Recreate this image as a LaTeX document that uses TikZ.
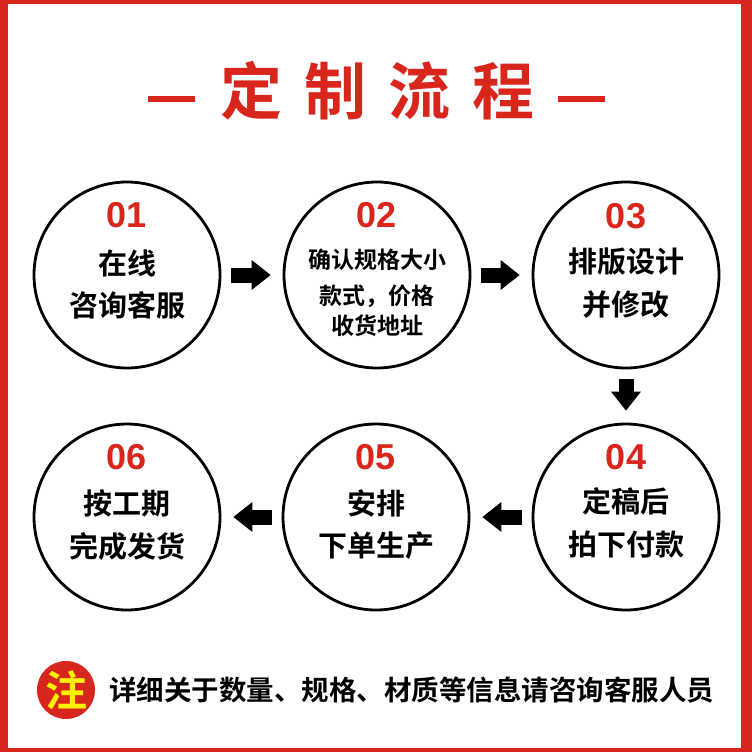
\documentclass[tikz,border=0pt]{standalone}
\usepackage{fontspec}
\newfontfamily\cjk{Noto Sans CJK SC}[BoldFont={Noto Sans CJK SC Bold}]
\newfontfamily\numfont{Liberation Sans}
\usetikzlibrary{arrows.meta,positioning,calc}
\definecolor{flowred}{HTML}{D9261C}
\definecolor{noteyellow}{HTML}{FFF000}

\begin{document}
\begin{tikzpicture}[x=1pt,y=-1pt,
    stepcircle/.style={circle, draw=black, line width=2.8pt, minimum size=186pt, inner sep=0pt, fill=white},
    numlabel/.style={font={\numfont\bfseries\fontsize{36}{36}\selectfont}, text=flowred, inner sep=0pt},
    steplabel/.style={font={\cjk\bfseries\fontsize{29}{29}\selectfont}, inner sep=0pt},
    smalllabel/.style={font={\cjk\bfseries\fontsize{23}{23}\selectfont}, inner sep=0pt},
    blockarrow/.style={-{Triangle[width=30pt,length=19pt,line width=0pt]}, line width=15pt, shorten <=10pt, shorten >=12pt},
    titledash/.style={fill=flowred}
]
    % Frame
    \useasboundingbox (0,0) rectangle (752,752);
    \fill[flowred] (0,0) rectangle (752,752);
    \fill[white] (8,4) rectangle (741,748);

    % Title
    \node[font={\cjk\bfseries\fontsize{62}{62}\selectfont}, text=flowred, inner sep=0pt] (title) at (377.5,91) {定\hspace{22pt}制\hspace{22pt}流\hspace{22pt}程};
    \fill[titledash] (148,95.5) rectangle (195,101.5);
    \fill[titledash] (558,95.5) rectangle (605,101.5);

    % Steps
    \node[stepcircle] (c1) at (127,275) {};
    \node[stepcircle] (c2) at (377,275) {};
    \node[stepcircle] (c3) at (626,275) {};
    \node[stepcircle] (c4) at (626,517) {};
    \node[stepcircle] (c5) at (376,517) {};
    \node[stepcircle] (c6) at (127,517) {};

    % Step texts
    \node[numlabel] (n1) at ([yshift=60pt]c1.center) {01};
    \node[steplabel] (a1) at ([yshift=12pt]c1.center) {在线};
    \node[steplabel] (b1) at ([yshift=-30pt]c1.center) {咨询客服};

    \node[numlabel] (n2) at ([yshift=60pt]c2.center) {02};
    \node[smalllabel] (a2) at ([yshift=15pt]c2.center) {确认规格大小};
    \node[smalllabel] (b2) at ([yshift=-21pt]c2.center) {款式，价格};
    \node[smalllabel] (d2) at ([yshift=-51pt]c2.center) {收货地址};

    \node[numlabel] (n3) at ([yshift=59pt]c3.center) {03};
    \node[steplabel] (a3) at ([yshift=13pt]c3.center) {排版设计};
    \node[steplabel] (b3) at ([yshift=-30pt]c3.center) {并修改};

    \node[numlabel] (n4) at ([yshift=60pt]c4.center) {04};
    \node[steplabel] (a4) at ([yshift=16pt]c4.center) {定稿后};
    \node[steplabel] (b4) at ([yshift=-28pt]c4.center) {拍下付款};

    \node[numlabel] (n5) at ([yshift=60pt]c5.center) {05};
    \node[steplabel] (a5) at ([yshift=14pt]c5.center) {安排};
    \node[steplabel] (b5) at ([yshift=-29pt]c5.center) {下单生产};

    \node[numlabel] (n6) at ([yshift=60pt]c6.center) {06};
    \node[steplabel] (a6) at ([yshift=14pt]c6.center) {按工期};
    \node[steplabel] (b6) at ([yshift=-29pt]c6.center) {完成发货};

    % Arrows
    \draw[blockarrow] (c1) -- (c2);
    \draw[blockarrow] (c2) -- (c3);
    \draw[blockarrow] (c3) -- (c4);
    \draw[blockarrow] (c4) -- (c5);
    \draw[blockarrow] (c5) -- (c6);

    % Note
    \node[circle, fill=flowred, minimum size=58pt, inner sep=0pt, text=noteyellow, font={\cjk\bfseries\fontsize{42}{42}\selectfont}] (zhu) at (66,690) {注};
    \node[right=14pt of zhu, inner sep=0pt, font={\cjk\bfseries\fontsize{27.5}{27.5}\selectfont}] (note) {详细关于数量、规格、材质等信息请咨询客服人员};
\end{tikzpicture}
\end{document}
